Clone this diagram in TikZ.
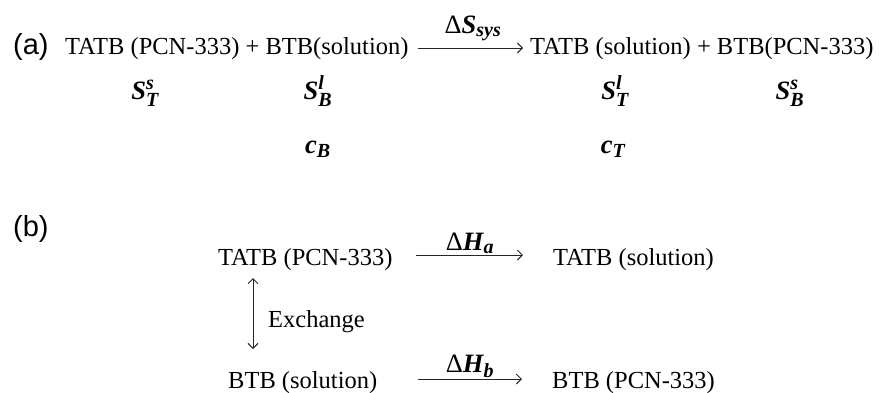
\documentclass[tikz,border=0pt]{standalone}
\usepackage{amsmath}
\usepackage{fontspec}
\setmainfont{Liberation Serif}
\newfontfamily\arialfont{Liberation Sans}
\usetikzlibrary{arrows.meta,calc}
\DeclareMathSizes{26.5}{26.5}{20}{15}
\newcommand\bi[1]{\text{\bfseries\itshape #1}}
\newcommand\dlt{\text{\upshape\mdseries Δ}}
\tikzset{
  txt/.style={inner sep=0pt, font=\fontsize{24.5}{28}\selectfont, anchor=base west},
  sym/.style={inner sep=0pt, font=\fontsize{26.5}{30}\selectfont, anchor=base},
  lab/.style={inner sep=0pt, font=\arialfont\fontsize{29}{32}\selectfont, anchor=base west},
  arr/.style={line width=0.9pt, draw=black!85, -{Straight Barb[length=5pt,width=10pt,line width=0.9pt]}},
  darr/.style={line width=0.9pt, draw=black!85, {Straight Barb[length=5pt,width=10pt,line width=0.9pt]}-{Straight Barb[length=5pt,width=10pt,line width=0.9pt]}}
}
\begin{document}
\begin{tikzpicture}[x=1pt,y=1pt]
\useasboundingbox (0,0) rectangle (886,-392);
% (a)
\node[lab] (la) at (13,-54.5) {(a)};
\node[txt] (r1) at (65,-54.5) {TATB (PCN-333) + BTB(solution)};
\node[txt] (r2) at (530,-54.5) {TATB (solution) + BTB(PCN-333)};
\draw[arr] ($(r1.base east)+(9,6.5)$) -- ($(r2.base west)+(-7,6.5)$);
\node[sym] (dS) at (473,-33) {$\dlt\bi{S}_{\bi{sys}}$};
\node[sym] (s1) at (145,-99) {$\bi{S}^{\bi{s}}_{\bi{T}}$};
\node[sym] (s2) at (318,-99) {$\bi{S}^{\bi{l}}_{\bi{B}}$};
\node[sym] (s3) at (615,-99) {$\bi{S}^{\bi{l}}_{\bi{T}}$};
\node[sym] (s4) at (790,-99) {$\bi{S}^{\bi{s}}_{\bi{B}}$};
\node[sym] (c1) at (318,-153) {$\bi{c}_{\bi{B}}$};
\node[sym] (c2) at (613,-153) {$\bi{c}_{\bi{T}}$};
% (b)
\node[lab] (lb) at (13,-236) {(b)};
\node[txt] (t1) at (218,-265) {TATB (PCN-333)};
\node[txt] (t2) at (553,-265) {TATB (solution)};
\node[txt] (b1) at (228,-388) {BTB (solution)};
\node[txt] (b2) at (552,-388) {BTB (PCN-333)};
\node[txt] (ex) at (268,-327) {Exchange};
\draw[arr] ($(t1.base east)+(23,10)$) -- ($(t2.base west)+(-30,10)$);
\draw[arr] ($(b1.base east)+(41,9)$) -- ($(b2.base west)+(-30,9)$);
\node[sym] (dHa) at (470,-250) {$\dlt\bi{H}_{\bi{a}}$};
\node[sym] (dHb) at (470,-372) {$\dlt\bi{H}_{\bi{b}}$};
\draw[darr] ($(t1.base west)+(35,-13)$) -- ($(b1.base west)+(25,39)$);
\end{tikzpicture}
\end{document}
